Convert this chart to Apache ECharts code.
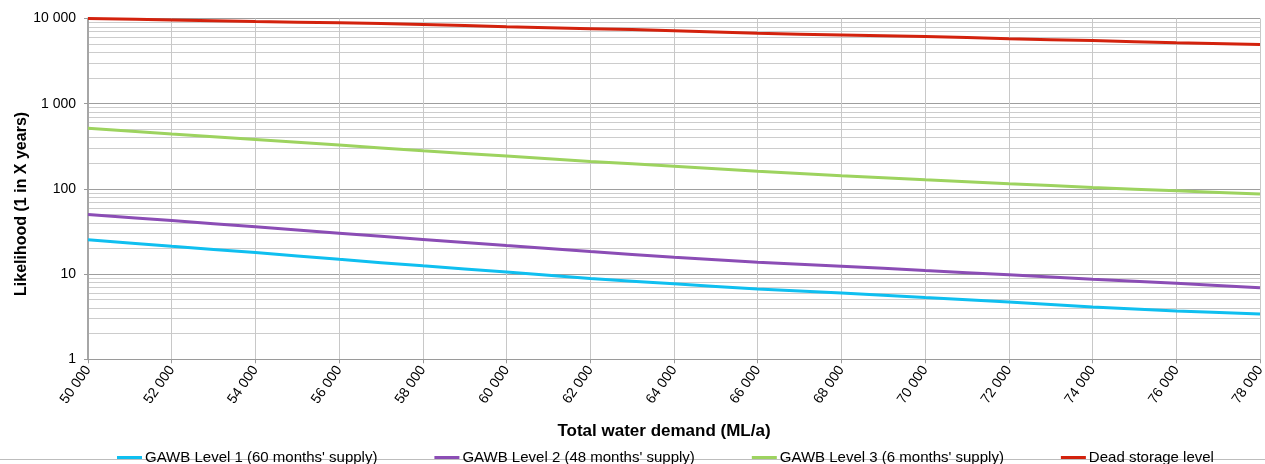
<!DOCTYPE html>
<html>
<head>
<meta charset="utf-8">
<script src="https://cdn.jsdelivr.net/npm/echarts@6/dist/echarts.min.js"></script>
<style>
html,body{margin:0;padding:0;background:#fff;}
#chart{width:1265px;height:464px;}
</style>
</head>
<body>
<div id="chart"></div>
<script>
// Data
const demand = [50000, 52000, 54000, 56000, 58000, 60000, 62000, 64000, 66000, 68000, 70000, 72000, 74000, 76000, 78000];
const level1 = [25.3, 21.2, 17.9, 14.9, 12.5, 10.6, 8.9, 7.7, 6.7, 6.0, 5.3, 4.7, 4.1, 3.7, 3.4];
const level2 = [50, 42.5, 35.9, 30.2, 25.5, 21.6, 18.4, 15.8, 13.8, 12.4, 11.0, 9.8, 8.7, 7.8, 6.9];
const level3 = [515, 440, 380, 327, 280, 243, 210, 185, 161, 143, 128, 115, 104, 95, 87];
const deadStorage = [10000, 9600, 9200, 8900, 8500, 8000, 7600, 7200, 6700, 6400, 6150, 5800, 5500, 5200, 4950];
const seriesNames = ["GAWB Level 1 (60 months' supply)", "GAWB Level 2 (48 months' supply)", "GAWB Level 3 (6 months' supply)", "Dead storage level"];
const xTitle = 'Total water demand (ML/a)';
const yTitle = 'Likelihood (1 in X years)';

function fmt(v) { return String(v).replace(/\B(?=(\d{3})+(?!\d))/g, ' '); }
function pairs(ys) { return demand.map((x, i) => [x, ys[i]]); }

const FONT = '"Liberation Sans", Arial, sans-serif';
const chart = echarts.init(document.getElementById('chart'), null, {renderer: 'canvas'});
const colors = ['#0fbff0', '#8b4db5', '#9dd35f', '#d3220d'];
const values = [level1, level2, level3, deadStorage];

chart.setOption({
  animation: false,
  backgroundColor: '#fff',
  textStyle: {fontFamily: FONT},
  grid: {left: 88, right: 5, top: 18.5, bottom: 104.7, containLabel: false, outerBoundsMode: 'none'},
  legend: {
    left: 117, top: 450, padding: 0, itemWidth: 25, itemHeight: 3, itemGap: 57,
    icon: 'rect',
    textStyle: {fontFamily: FONT, fontSize: 15, color: '#000', padding: [0, 0, 0, -2]},
    data: seriesNames
  },
  graphic: [{
    type: 'line', z: -1,
    shape: {x1: 0, y1: 459.5, x2: 1265, y2: 459.5},
    style: {stroke: '#bdbdbd', lineWidth: 1}
  }],
  xAxis: {
    type: 'value', min: 50000, max: 78000, interval: 2000,
    name: xTitle, nameLocation: 'middle', nameGap: 64, nameMoveOverlap: false,
    nameTextStyle: {fontFamily: FONT, fontSize: 17, fontWeight: 'bold', color: '#000', padding: [0, 20, 0, 0]},
    axisLine: {show: true, lineStyle: {color: '#9a9a9a', width: 1}},
    axisTick: {show: true, length: 4, lineStyle: {color: '#9a9a9a'}},
    axisLabel: {rotate: 55, margin: 8, fontFamily: FONT, fontSize: 14, color: '#000', formatter: fmt},
    splitLine: {show: true, lineStyle: {color: '#c8c8c8', width: 1}}
  },
  yAxis: {
    type: 'log', logBase: 10, min: 1, max: 10000,
    name: yTitle, nameLocation: 'middle', nameGap: 58, nameMoveOverlap: false,
    nameTextStyle: {fontFamily: FONT, fontSize: 16, fontWeight: 'bold', color: '#000', padding: [0, 30, 0, 0]},
    axisLine: {show: true, lineStyle: {color: '#a6a6a6', width: 2}},
    axisTick: {show: true, length: 4, lineStyle: {color: '#9a9a9a'}},
    axisLabel: {margin: 12, fontFamily: FONT, fontSize: 14, color: '#000', formatter: fmt},
    splitLine: {show: true, lineStyle: {color: '#9e9e9e', width: 1}},
    minorTick: {show: false, splitNumber: 9},
    minorSplitLine: {show: true, lineStyle: {color: '#cccccc', width: 1}}
  },
  series: seriesNames.map((n, i) => ({
    name: n, type: 'line', data: pairs(values[i]),
    smooth: 0.3, showSymbol: false, symbol: 'none',
    lineStyle: {color: colors[i], width: 3},
    itemStyle: {color: colors[i]},
    z: 3 + i
  }))
});
</script>
</body>
</html>
